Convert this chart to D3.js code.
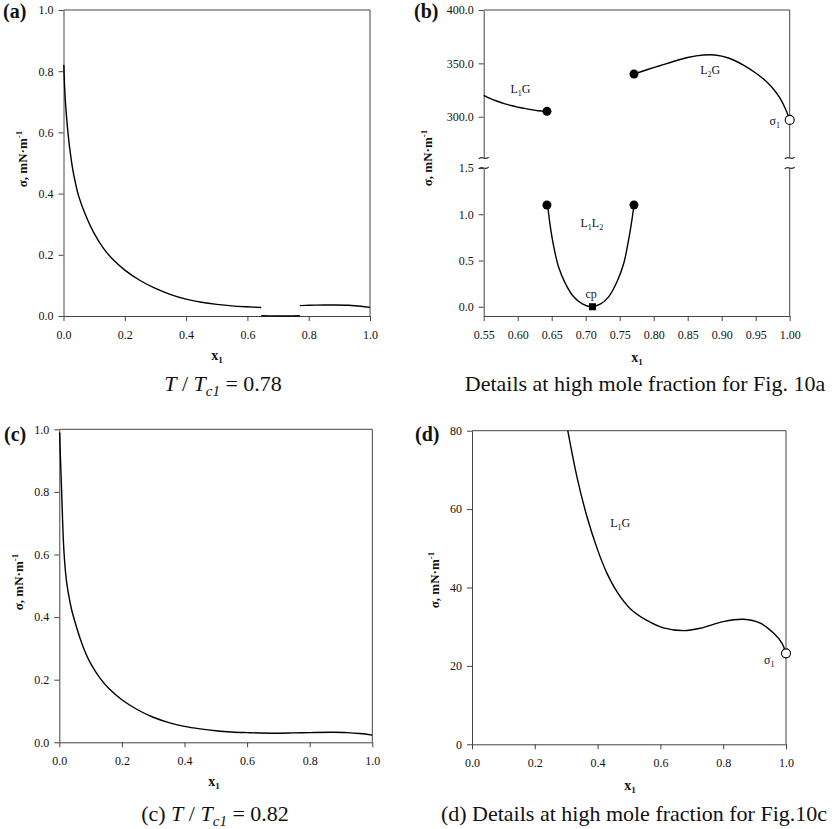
<!DOCTYPE html>
<html>
<head>
<meta charset="utf-8">
<script src="https://cdn.jsdelivr.net/npm/d3@7"></script>
<style>
  body { margin: 0; background: #fff; }
  text { font-family: "Liberation Serif", "Times New Roman", Times, serif; fill: #111; }
</style>
</head>
<body>
<svg id="fig" width="837" height="829"></svg>
<script>
// ---- panel (a): T/Tc1 = 0.78 ----
const A_L1G_X = [0.001,0.005,0.01,0.015,0.02,0.03,0.04,0.05,0.07,0.1,0.13,0.16,0.2,0.25,0.3,0.35,0.4,0.45,0.5,0.55,0.6,0.645];
const A_L1G_Y = [0.82,0.72,0.65,0.595,0.55,0.48,0.43,0.39,0.335,0.27,0.222,0.186,0.15,0.116,0.09,0.07,0.055,0.045,0.038,0.033,0.030,0.028];
const A_L1L2_X = [0.645,0.70,0.71,0.73,0.771];
const A_L1L2_Y = [0.001,0.0,0.0,0.0,0.001];
const A_L2G_X = [0.771,0.80,0.85,0.88,0.93,0.97,1.0];
const A_L2G_Y = [0.034,0.035,0.036,0.036,0.035,0.032,0.028];

// ---- panel (b): details of (a) ----
const B_L1G_X = [0.55,0.56,0.57,0.58,0.59,0.60,0.61,0.62,0.63,0.643];
const B_L1G_Y = [320,317,314.5,312.3,310.5,309,307.8,306.6,305.6,305];
const B_L2G_X = [0.771,0.79,0.81,0.83,0.85,0.873,0.89,0.91,0.932,0.95,0.966,0.976,0.986,0.994,1.0];
const B_L2G_Y = [340,344,348,352,355.5,357.8,357.8,355,348.4,341,332.8,326,317.2,307,297];
const B_L1L2_X = [0.644,0.648,0.653,0.66,0.67,0.682,0.695,0.708,0.722,0.734,0.746,0.756,0.763,0.768,0.771];
const B_L1L2_Y = [1.10,0.866,0.65,0.433,0.253,0.11,0.03,0.0,0.03,0.11,0.27,0.47,0.72,0.94,1.10];
const B_DOTS_UP = [[0.643,305],[0.771,340]];
const B_DOTS_LOW = [[0.643,1.10],[0.771,1.10]];
const B_SIGMA1 = [1.0,297];
const B_CP = [0.71,0.0];

// ---- panel (c): T/Tc1 = 0.82 ----
const C_X = [0.001,0.004,0.0075,0.01,0.013,0.018,0.023,0.03,0.039,0.05,0.066,0.08,0.1,0.13,0.16,0.2,0.25,0.3,0.35,0.4,0.45,0.5,0.55,0.6,0.68,0.75,0.8,0.87,0.92,0.96,1.0];
const C_Y = [0.99,0.90,0.80,0.725,0.645,0.565,0.515,0.47,0.425,0.385,0.333,0.295,0.252,0.205,0.17,0.136,0.104,0.080,0.063,0.051,0.043,0.037,0.033,0.031,0.029,0.030,0.031,0.032,0.031,0.028,0.023];

// ---- panel (d): details of (c) ----
const D_X = [0.305,0.334,0.366,0.4,0.43,0.462,0.504,0.557,0.61,0.674,0.727,0.8,0.865,0.918,0.961,0.987,1.0];
const D_Y = [80,68.3,58.1,49.6,43.6,38.9,34.6,31.6,29.7,29.0,29.6,31.3,31.9,30.9,28.3,25.8,23.2];
const D_SIGMA1 = [1.0,23.2];

// ticks
const UNIT_TICKS = [0,0.2,0.4,0.6,0.8,1.0];
const B_X_TICKS = [0.55,0.60,0.65,0.70,0.75,0.80,0.85,0.90,0.95,1.00];
const B_Y_UP_TICKS = [300,350,400];
const B_Y_LOW_TICKS = [0,0.5,1.0,1.5];
const D_Y_TICKS = [0,20,40,60,80];

const svg = d3.select('#fig');
const FRAME_COLOR = '#444';

function zip(xs, ys) { return xs.map((v, i) => [v, ys[i]]); }

function styleAxis(g) {
  g.attr('font-family', '"Liberation Serif", serif').attr('font-size', 12);
  g.selectAll('path.domain').attr('stroke', FRAME_COLOR);
  g.selectAll('line').attr('stroke', FRAME_COLOR);
  g.selectAll('text').attr('fill', '#111');
}

function drawLine(x, y, pts) {
  svg.append('path')
    .datum(pts)
    .attr('fill', 'none')
    .attr('stroke', '#000')
    .attr('stroke-width', 1.4)
    .attr('d', d3.line().x(d => x(d[0])).y(d => y(d[1])).curve(d3.curveCatmullRom.alpha(0.5)));
}

function yTitle(xPos, yCenter) {
  const t = svg.append('text')
    .attr('transform', 'translate(' + xPos + ',' + yCenter + ') rotate(-90)')
    .attr('text-anchor', 'middle')
    .attr('font-size', 13)
    .attr('font-weight', 'bold');
  t.append('tspan').text('\u03C3, mN\u00B7m');
  t.append('tspan').attr('dy', -5).attr('font-size', 9).text('-1');
}

function xTitle(xCenter, yPos) {
  const t = svg.append('text')
    .attr('x', xCenter).attr('y', yPos)
    .attr('text-anchor', 'middle')
    .attr('font-size', 14)
    .attr('font-weight', 'bold');
  t.append('tspan').text('x');
  t.append('tspan').attr('dy', 3).attr('font-size', 9).text('1');
}

function subLabel(x, y, a, sub, b, size) {
  const t = svg.append('text')
    .attr('x', x).attr('y', y)
    .attr('text-anchor', 'middle')
    .attr('font-size', size || 12);
  t.append('tspan').text(a);
  t.append('tspan').attr('dy', 3).attr('font-size', 8).text(sub);
  if (b) t.append('tspan').attr('dy', -3).text(b);
}

function panelLetter(txt, x, y) {
  svg.append('text').attr('x', x).attr('y', y)
    .attr('font-size', 20).attr('font-weight', 'bold').text(txt);
}

function tCaption(x, y, prefix, value) {
  const t = svg.append('text').attr('x', x).attr('y', y)
    .attr('text-anchor', 'middle').attr('font-size', 22);
  if (prefix) t.append('tspan').text(prefix);
  t.append('tspan').attr('font-style', 'italic').text('T');
  t.append('tspan').text(' / ');
  t.append('tspan').attr('font-style', 'italic').text('T');
  t.append('tspan').attr('font-style', 'italic').attr('dy', 5).attr('font-size', 15).text('c1');
  t.append('tspan').attr('dy', -5).text(' = ' + value);
}

// standard box panel
function boxPanel(o) {
  const x = d3.scaleLinear().domain(o.xDom).range([o.left, o.right]);
  const y = d3.scaleLinear().domain(o.yDom).range([o.bottom, o.top]);

  svg.append('g')
    .attr('transform', 'translate(0,' + o.bottom + ')')
    .call(d3.axisBottom(x).tickValues(o.xTicks).tickFormat(d3.format(o.xFmt))
      .tickSize(5).tickPadding(9).tickSizeOuter(0))
    .call(styleAxis);
  svg.append('g')
    .attr('transform', 'translate(' + o.left + ',0)')
    .call(d3.axisLeft(y).tickValues(o.yTicks).tickFormat(d3.format(o.yFmt))
      .tickSize(5).tickPadding(5).tickSizeOuter(0))
    .call(styleAxis);
  // top and right frame
  svg.append('path')
    .attr('d', 'M' + o.left + ',' + o.top + 'H' + o.right + 'V' + o.bottom)
    .attr('fill', 'none').attr('stroke', FRAME_COLOR).attr('stroke-width', 1);
  return { x: x, y: y };
}

// ---------------- (a) ----------------
const pa = boxPanel({ left: 63.5, right: 370, top: 10, bottom: 316,
  xDom: [0, 1], yDom: [0, 1], xTicks: UNIT_TICKS, yTicks: UNIT_TICKS, xFmt: '.1f', yFmt: '.1f' });
drawLine(pa.x, pa.y, zip(A_L1G_X, A_L1G_Y));
drawLine(pa.x, pa.y, zip(A_L1L2_X, A_L1L2_Y));
drawLine(pa.x, pa.y, zip(A_L2G_X, A_L2G_Y));
yTitle(27, 159);
xTitle(217, 360);
panelLetter('(a)', 3, 18);
tCaption(223, 391, '', '0.78');

// ---------------- (b) ----------------
const bL = 483.7, bR = 789.7;
const bx = d3.scaleLinear().domain([0.55, 1.0]).range([bL, bR]);
const byUp = d3.scaleLinear().domain([261.3, 400]).range([158, 10]);
const byLow = d3.scaleLinear().domain([-0.1, 1.5]).range([316, 168]);

svg.append('g')
  .attr('transform', 'translate(0,316)')
  .call(d3.axisBottom(bx).tickValues(B_X_TICKS).tickFormat(d3.format('.2f'))
    .tickSize(5).tickPadding(9).tickSizeOuter(0))
  .call(styleAxis);
svg.append('g')
  .attr('transform', 'translate(' + bL + ',0)')
  .call(d3.axisLeft(byUp).tickValues(B_Y_UP_TICKS).tickFormat(d3.format('.1f'))
    .tickSize(5).tickPadding(5).tickSizeOuter(0))
  .call(styleAxis);
svg.append('g')
  .attr('transform', 'translate(' + bL + ',0)')
  .call(d3.axisLeft(byLow).tickValues(B_Y_LOW_TICKS).tickFormat(d3.format('.1f'))
    .tickSize(5).tickPadding(5).tickSizeOuter(0))
  .call(styleAxis);
// top and broken right frame
svg.append('path')
  .attr('d', 'M' + bL + ',10H' + bR + 'V' + byUp.range()[0] + 'M' + bR + ',' + byLow.range()[1] + 'V316')
  .attr('fill', 'none').attr('stroke', FRAME_COLOR).attr('stroke-width', 1);
// break marks
[bL, bR].forEach(ax => {
  [byUp.range()[0], byLow.range()[1]].forEach(yy => {
    svg.append('path')
      .attr('d', 'M' + (ax - 5) + ',' + (yy + 1) + 'C' + (ax - 2) + ',' + (yy - 3) + ' ' + (ax + 2) + ',' + (yy + 3) + ' ' + (ax + 5) + ',' + (yy - 1))
      .attr('fill', 'none').attr('stroke', '#222').attr('stroke-width', 1.1);
  });
});

drawLine(bx, byUp, zip(B_L1G_X, B_L1G_Y));
drawLine(bx, byUp, zip(B_L2G_X, B_L2G_Y));
drawLine(bx, byLow, zip(B_L1L2_X, B_L1L2_Y));

svg.selectAll('circle.bup').data(B_DOTS_UP).enter().append('circle')
  .attr('cx', d => bx(d[0])).attr('cy', d => byUp(d[1])).attr('r', 4.5).attr('fill', '#000');
svg.selectAll('circle.blow').data(B_DOTS_LOW).enter().append('circle')
  .attr('cx', d => bx(d[0])).attr('cy', d => byLow(d[1])).attr('r', 4.5).attr('fill', '#000');
svg.append('circle')
  .attr('cx', bx(B_SIGMA1[0])).attr('cy', byUp(B_SIGMA1[1])).attr('r', 4.5)
  .attr('fill', '#fff').attr('stroke', '#000').attr('stroke-width', 1.1);
svg.append('rect')
  .attr('x', bx(B_CP[0]) - 3.5).attr('y', byLow(B_CP[1]) - 3.5)
  .attr('width', 7).attr('height', 7).attr('fill', '#000');

subLabel(bx(0.604), byUp(322), 'L', '1', 'G');
subLabel(bx(0.883), byUp(340), 'L', '2', 'G');
subLabel(bx(0.978), byUp(292), '\u03C3', '1', '', 12);
svg.append('text').attr('x', bx(0.709)).attr('y', byLow(0.866)).attr('text-anchor', 'middle')
  .attr('font-size', 12)
  .call(t => {
    t.append('tspan').text('L');
    t.append('tspan').attr('dy', 3).attr('font-size', 8).text('1');
    t.append('tspan').attr('dy', -3).text('L');
    t.append('tspan').attr('dy', 3).attr('font-size', 8).text('2');
  });
svg.append('text').attr('x', bx(0.708)).attr('y', byLow(0.098)).attr('text-anchor', 'middle')
  .attr('font-size', 12).text('cp');

yTitle(432, 158);
xTitle(637, 362);
panelLetter('(b)', 414, 18);
svg.append('text').attr('x', 645).attr('y', 391).attr('text-anchor', 'middle')
  .attr('font-size', 22).text('Details at high mole fraction for Fig. 10a');

// ---------------- (c) ----------------
const pc = boxPanel({ left: 59.3, right: 372.3, top: 429.3, bottom: 742.3,
  xDom: [0, 1], yDom: [0, 1], xTicks: UNIT_TICKS, yTicks: UNIT_TICKS, xFmt: '.1f', yFmt: '.1f' });
drawLine(pc.x, pc.y, zip(C_X, C_Y));
yTitle(23, 582);
xTitle(214, 786);
panelLetter('(c)', 4, 441);
tCaption(215, 821, '(c) ', '0.82');

// ---------------- (d) ----------------
const pd = boxPanel({ left: 472, right: 786, top: 430.7, bottom: 744.3,
  xDom: [0, 1], yDom: [0, 80], xTicks: UNIT_TICKS, yTicks: D_Y_TICKS, xFmt: '.1f', yFmt: 'd' });
drawLine(pd.x, pd.y, zip(D_X, D_Y));
svg.append('circle')
  .attr('cx', pd.x(D_SIGMA1[0])).attr('cy', pd.y(D_SIGMA1[1])).attr('r', 4.5)
  .attr('fill', '#fff').attr('stroke', '#000').attr('stroke-width', 1.1);
subLabel(pd.x(0.472), pd.y(55.4), 'L', '1', 'G');
subLabel(pd.x(0.947), pd.y(20.5), '\u03C3', '1', '', 12);
yTitle(439, 580);
xTitle(630, 790);
panelLetter('(d)', 415, 441);
svg.append('text').attr('x', 634).attr('y', 821).attr('text-anchor', 'middle')
  .attr('font-size', 22).text('(d) Details at high mole fraction for Fig.10c');
</script>
</body>
</html>
